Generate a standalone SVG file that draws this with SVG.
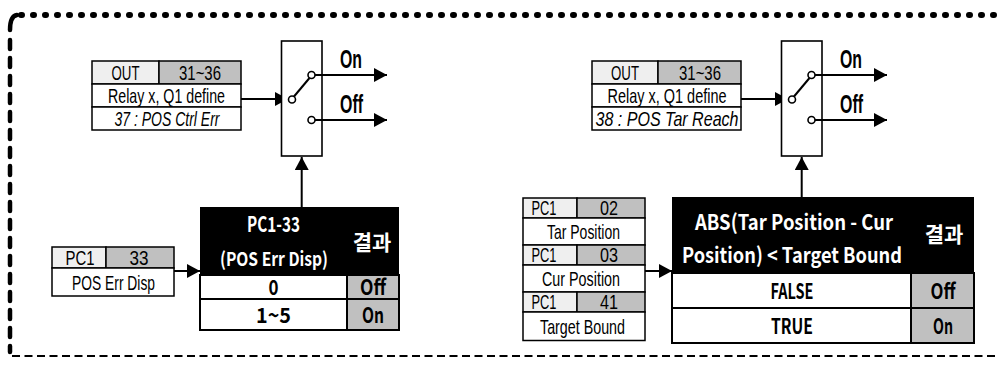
<svg xmlns="http://www.w3.org/2000/svg" width="999" height="366" viewBox="0 0 999 366">
<defs>
<style>
.cell{stroke:#000;stroke-width:1.5}
.lt{fill:#efefef}.dk{fill:#c0c0c0}.wh{fill:#fff}
.t{font-family:"Liberation Sans",Arial,sans-serif;font-size:21px;text-anchor:middle;fill:#000}
.it{font-style:italic}
.hb{font-family:"Noto Sans CJK KR","Noto Sans",sans-serif;font-weight:bold;font-size:21px;text-anchor:middle}
.sm{font-size:19px}
.kr{font-family:"Noto Sans CJK KR",sans-serif;font-weight:bold;font-size:21px;text-anchor:middle;fill:#fff}
.sw{font-family:"Liberation Sans",Arial,sans-serif;font-weight:bold;font-size:26px;text-anchor:middle}
.ln{stroke:#000;stroke-width:2;fill:none}
.circ{stroke:#000;stroke-width:1.6;fill:#fff}
</style>
<marker id="ah" markerWidth="13" markerHeight="14" refX="13" refY="7" orient="auto" markerUnits="userSpaceOnUse"><path d="M0,0 L13,7 L0,14 z" fill="#000"/></marker>
</defs>

<g id="border" fill="none" stroke="#000">
<path d="M21,15 H999" stroke-width="6" stroke-linecap="round" stroke-dasharray="1 11"/>
<path d="M10,30 Q10,16 17,15" stroke-width="4.5" stroke-linecap="round"/>
<path d="M10,40 V352" stroke-width="4.5" stroke-linecap="round" stroke-dasharray="9 9"/>
<path d="M12,356 H999" stroke-width="1.8" stroke-dasharray="8 4.5"/>
</g>

<g id="connectors">
<path class="ln" d="M241,99 H288" marker-end="url(#ah)"/>
<path class="ln" d="M741,99 H788" marker-end="url(#ah)"/>
<path class="ln" d="M301.7,207 V157" marker-end="url(#ah)"/>
<path class="ln" d="M801.7,197 V157" marker-end="url(#ah)"/>
<path class="ln" d="M174,271 H200" marker-end="url(#ah)"/>
<path class="ln" d="M645,271 H672" marker-end="url(#ah)"/>
</g>

<g id="out-left">
<rect class="cell lt" x="92" y="61" width="67" height="23"/>
<rect class="cell dk" x="159" y="61" width="82" height="23"/>
<rect class="cell wh" x="92" y="84" width="149" height="23"/>
<rect class="cell wh" x="92" y="107" width="149" height="23"/>
<text class="t" x="125.5" y="80" textLength="28" lengthAdjust="spacingAndGlyphs">OUT</text>
<text class="t" x="200" y="80" textLength="42" lengthAdjust="spacingAndGlyphs">31~36</text>
<text class="t" x="166.5" y="103" textLength="117" lengthAdjust="spacingAndGlyphs">Relay x, Q1 define</text>
<text class="t it" x="167" y="126" textLength="105" lengthAdjust="spacingAndGlyphs">37 : POS Ctrl Err</text>
</g>

<g id="switch-left">
<rect x="281.5" y="41" width="40.5" height="115" fill="#fff" stroke="#000" stroke-width="1.6"/>
<line class="ln" x1="294" y1="96.5" x2="309.5" y2="78"/>
<path class="ln" d="M315,75 H387" marker-end="url(#ah)"/>
<path class="ln" d="M315,120 H387" marker-end="url(#ah)"/>
<circle class="circ" cx="311.5" cy="75" r="3.5"/>
<circle class="circ" cx="311.5" cy="120" r="3.5"/>
<circle class="circ" cx="292" cy="99.5" r="3.5"/>
<text class="sw" x="351" y="68" textLength="22" lengthAdjust="spacingAndGlyphs">On</text>
<text class="sw" x="351.5" y="113" textLength="23" lengthAdjust="spacingAndGlyphs">Off</text>
</g>

<g id="pc1-left">
<rect class="cell lt" x="52" y="247" width="54" height="21"/>
<rect class="cell dk" x="106" y="247" width="68" height="21"/>
<rect class="cell wh" x="52" y="268" width="122" height="28"/>
<text class="t" x="80" y="265" textLength="29" lengthAdjust="spacingAndGlyphs">PC1</text>
<text class="t" x="139" y="265" textLength="19" lengthAdjust="spacingAndGlyphs">33</text>
<text class="t" x="113.5" y="290" textLength="83" lengthAdjust="spacingAndGlyphs">POS Err Disp</text>
</g>

<g id="table-left">
<rect x="200" y="207" width="199" height="68" fill="#000"/>
<rect x="200" y="275" width="147" height="24" fill="#fff" stroke="#000" stroke-width="2"/>
<rect x="347" y="275" width="52" height="24" fill="#c0c0c0" stroke="#000" stroke-width="2"/>
<rect x="200" y="299" width="147" height="31" fill="#fff" stroke="#000" stroke-width="2"/>
<rect x="347" y="299" width="52" height="31" fill="#c0c0c0" stroke="#000" stroke-width="2"/>
<text class="hb" x="273.5" y="232" fill="#fff" textLength="53" lengthAdjust="spacingAndGlyphs">PC1-33</text>
<text class="hb sm" x="274" y="265.5" fill="#fff" textLength="108" lengthAdjust="spacingAndGlyphs">(POS Err Disp)</text>
<text class="kr" x="372" y="250">결과</text>
<text class="hb" x="273.5" y="295" textLength="10" lengthAdjust="spacingAndGlyphs">0</text>
<text class="hb" x="273.5" y="322.5" textLength="35" lengthAdjust="spacingAndGlyphs">1~5</text>
<text class="hb" x="373" y="295" textLength="26" lengthAdjust="spacingAndGlyphs">Off</text>
<text class="hb" x="373" y="322.5" textLength="22" lengthAdjust="spacingAndGlyphs">On</text>
</g>

<g id="out-right">
<rect class="cell lt" x="592" y="61" width="66" height="23"/>
<rect class="cell dk" x="658" y="61" width="83" height="23"/>
<rect class="cell wh" x="592" y="84" width="149" height="23"/>
<rect class="cell wh" x="592" y="107" width="149" height="23"/>
<text class="t" x="625" y="80" textLength="28" lengthAdjust="spacingAndGlyphs">OUT</text>
<text class="t" x="700" y="80" textLength="42" lengthAdjust="spacingAndGlyphs">31~36</text>
<text class="t" x="667" y="103" textLength="119" lengthAdjust="spacingAndGlyphs">Relay x, Q1 define</text>
<text class="t it" x="667" y="126" textLength="143" lengthAdjust="spacingAndGlyphs">38 : POS Tar Reach</text>
</g>

<g id="switch-right">
<rect x="781.5" y="41" width="40.5" height="115" fill="#fff" stroke="#000" stroke-width="1.6"/>
<line class="ln" x1="794" y1="96.5" x2="809.5" y2="78"/>
<path class="ln" d="M815,75 H887" marker-end="url(#ah)"/>
<path class="ln" d="M815,120 H887" marker-end="url(#ah)"/>
<circle class="circ" cx="811.5" cy="75" r="3.5"/>
<circle class="circ" cx="811.5" cy="120" r="3.5"/>
<circle class="circ" cx="792" cy="99.5" r="3.5"/>
<text class="sw" x="851" y="68" textLength="22" lengthAdjust="spacingAndGlyphs">On</text>
<text class="sw" x="851.5" y="113" textLength="23" lengthAdjust="spacingAndGlyphs">Off</text>
</g>

<g id="pc1-right">
<rect class="cell lt" x="523" y="198" width="54" height="20"/>
<rect class="cell dk" x="577" y="198" width="68" height="20"/>
<rect class="cell wh" x="523" y="218" width="122" height="27"/>
<rect class="cell lt" x="523" y="245" width="54" height="20"/>
<rect class="cell dk" x="577" y="245" width="68" height="20"/>
<rect class="cell wh" x="523" y="265" width="122" height="27"/>
<rect class="cell lt" x="523" y="292" width="54" height="20"/>
<rect class="cell dk" x="577" y="292" width="68" height="20"/>
<rect class="cell wh" x="523" y="312" width="122" height="28.5"/>
<text class="t" x="544" y="215" textLength="25" lengthAdjust="spacingAndGlyphs">PC1</text>
<text class="t" x="609" y="215" textLength="18" lengthAdjust="spacingAndGlyphs">02</text>
<text class="t" x="583.5" y="239" textLength="73" lengthAdjust="spacingAndGlyphs">Tar Position</text>
<text class="t" x="544" y="262" textLength="25" lengthAdjust="spacingAndGlyphs">PC1</text>
<text class="t" x="609" y="262" textLength="18" lengthAdjust="spacingAndGlyphs">03</text>
<text class="t" x="581" y="286" textLength="78" lengthAdjust="spacingAndGlyphs">Cur Position</text>
<text class="t" x="544" y="309" textLength="25" lengthAdjust="spacingAndGlyphs">PC1</text>
<text class="t" x="609" y="309" textLength="18" lengthAdjust="spacingAndGlyphs">41</text>
<text class="t" x="582.5" y="334" textLength="85" lengthAdjust="spacingAndGlyphs">Target Bound</text>
</g>

<g id="table-right">
<rect x="672" y="197" width="302" height="76" fill="#000"/>
<rect x="672" y="273" width="239" height="35" fill="#fff" stroke="#000" stroke-width="2"/>
<rect x="911" y="273" width="63" height="35" fill="#c0c0c0" stroke="#000" stroke-width="2"/>
<rect x="672" y="308" width="239" height="35" fill="#fff" stroke="#000" stroke-width="2"/>
<rect x="911" y="308" width="63" height="35" fill="#c0c0c0" stroke="#000" stroke-width="2"/>
<text class="hb" x="794" y="230" fill="#fff" textLength="198" lengthAdjust="spacingAndGlyphs">ABS(Tar Position - Cur</text>
<text class="hb" x="792" y="263" fill="#fff" textLength="220" lengthAdjust="spacingAndGlyphs">Position) &lt; Target Bound</text>
<text class="kr" x="944" y="242">결과</text>
<text class="hb" x="792" y="299" textLength="43" lengthAdjust="spacingAndGlyphs">FALSE</text>
<text class="hb" x="792" y="334" textLength="42" lengthAdjust="spacingAndGlyphs">TRUE</text>
<text class="hb" x="943" y="299" textLength="25" lengthAdjust="spacingAndGlyphs">Off</text>
<text class="hb" x="943" y="334" textLength="20" lengthAdjust="spacingAndGlyphs">On</text>
</g>
</svg>
